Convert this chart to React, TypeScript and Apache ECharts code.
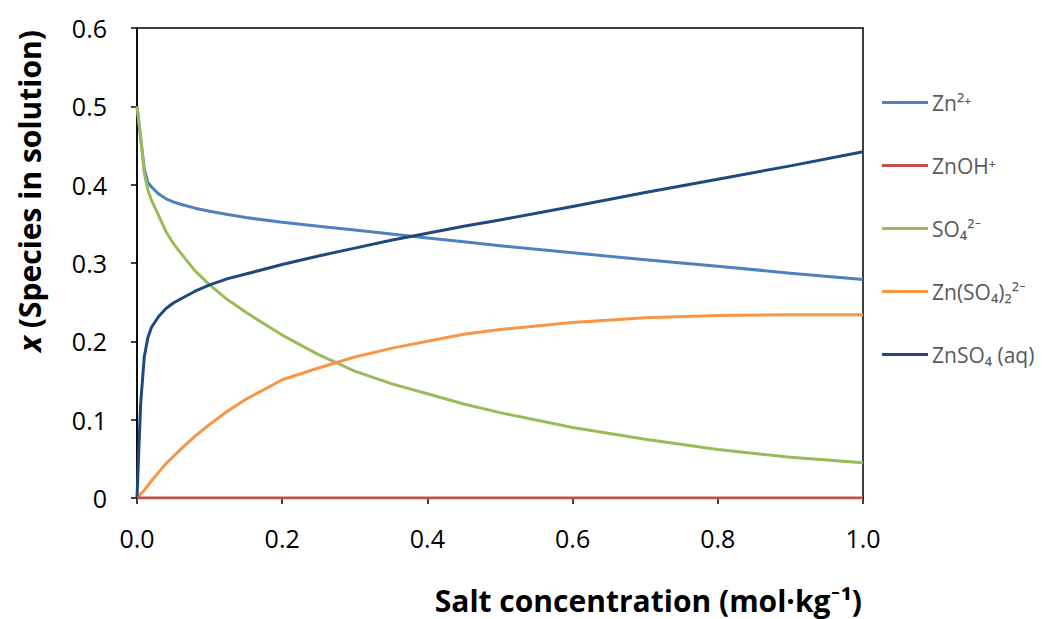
import React, { useEffect, useRef } from "react";
import * as echarts from "echarts";

const xs = [0, 0.005, 0.01, 0.015, 0.02, 0.03, 0.04, 0.05, 0.06, 0.08, 0.1, 0.125, 0.15, 0.2, 0.25, 0.3, 0.35, 0.4, 0.45, 0.5, 0.6, 0.7, 0.8, 0.9, 1.0];
const zn2 = [0.5, 0.46, 0.42, 0.403, 0.397, 0.388, 0.382, 0.378, 0.375, 0.37, 0.366, 0.362, 0.358, 0.352, 0.347, 0.342, 0.337, 0.332, 0.327, 0.322, 0.313, 0.304, 0.296, 0.287, 0.279];
const znoh = [0, 0, 0, 0, 0, 0, 0, 0, 0, 0, 0, 0, 0, 0, 0, 0, 0, 0, 0, 0, 0, 0, 0, 0, 0];
const so4 = [0.5, 0.46, 0.415, 0.393, 0.38, 0.36, 0.34, 0.325, 0.313, 0.29, 0.272, 0.253, 0.237, 0.208, 0.183, 0.162, 0.146, 0.133, 0.12, 0.109, 0.09, 0.075, 0.062, 0.052, 0.045];
const znso42 = [0, 0.005, 0.01, 0.016, 0.022, 0.033, 0.044, 0.053, 0.062, 0.079, 0.094, 0.111, 0.126, 0.151, 0.166, 0.18, 0.191, 0.2, 0.209, 0.215, 0.224, 0.23, 0.233, 0.234, 0.234];
const znso4 = [0, 0.12, 0.18, 0.205, 0.218, 0.232, 0.242, 0.249, 0.254, 0.264, 0.272, 0.28, 0.286, 0.298, 0.309, 0.319, 0.329, 0.338, 0.347, 0.355, 0.372, 0.39, 0.407, 0.424, 0.442];

const seriesNames = ["Zn²⁺", "ZnOH⁺", "SO₄²⁻", "Zn(SO₄)₂²⁻", "ZnSO₄ (aq)"];
const seriesValues = [zn2, znoh, so4, znso42, znso4];
const colors = ["#4F81BD", "#C0504D", "#9BBB59", "#F79646", "#1F497D"];

const FONT = "'Open Sans', Lato, sans-serif";

export default function App() {
  const ref = useRef<HTMLDivElement>(null);
  useEffect(() => {
    if (!ref.current) return;
    const chart = echarts.init(ref.current, undefined, { renderer: "svg" });
    chart.setOption({
      animation: false,
      backgroundColor: "#fff",
      color: colors,
      grid: {
        left: 137,
        right: 191,
        top: 28,
        bottom: 121,
        show: true,
        borderColor: "#000",
        borderWidth: 1.5,
        containLabel: false,
      },
      legend: {
        orient: "vertical",
        left: 882,
        top: 92,
        padding: 0,
        icon: "rect",
        itemWidth: 46,
        itemHeight: 3,
        itemGap: 42,
        textStyle: { fontFamily: FONT, fontSize: 21, color: "#595959", padding: [0, 0, 0, -1] },
        data: seriesNames,
      },
      xAxis: {
        type: "value",
        min: 0,
        max: 1,
        interval: 0.2,
        axisLine: { lineStyle: { color: "#000", width: 1.5 } },
        axisTick: { show: true, length: 6, lineStyle: { color: "#000", width: 1.5 } },
        axisLabel: {
          fontFamily: FONT,
          fontSize: 25,
          color: "#000",
          margin: 27,
          formatter: (v: number) => v.toFixed(1),
        },
        splitLine: { show: false },
      },
      yAxis: {
        type: "value",
        min: 0,
        max: 0.6,
        interval: 0.1,
        axisLine: { show: true, lineStyle: { color: "#000", width: 1.5 } },
        axisTick: { show: true, length: 6, lineStyle: { color: "#000", width: 1.5 } },
        axisLabel: {
          fontFamily: FONT,
          fontSize: 25,
          color: "#000",
          margin: 30,
          formatter: (v: number) => (v === 0 ? "0" : v.toFixed(1)),
        },
        splitLine: { show: false },
      },
      graphic: [
        {
          type: "text",
          x: 29,
          y: 191,
          rotation: Math.PI / 2,
          style: {
            text: "{i|x} (Species in solution)",
            fontFamily: FONT,
            fontSize: 30,
            fontWeight: "bold",
            fill: "#000",
            align: "center",
            verticalAlign: "middle",
            rich: {
              i: { fontStyle: "italic", fontWeight: "bold", fontSize: 30, fontFamily: FONT, fill: "#000" },
            },
          },
        },
        {
          type: "text",
          x: 862,
          y: 600,
          style: {
            text: "Salt concentration (mol·kg⁻¹)",
            fontFamily: FONT,
            fontSize: 30,
            fontWeight: "bold",
            fill: "#000",
            align: "right",
            verticalAlign: "middle",
          },
        },
      ],
      series: seriesNames.map((name, i) => ({
        name,
        type: "line",
        data: xs.map((x, j) => [x, seriesValues[i][j]]),
        smooth: false,
        showSymbol: false,
        symbol: "none",
        lineStyle: { width: 3, color: colors[i], join: "round" },
        z: i === 1 ? 3 : 2,
      })),
    });
    return () => chart.dispose();
  }, []);
  return (
    <div
      ref={ref}
      style={{ position: "absolute", left: 0, top: 0, width: 1054, height: 619 }}
    />
  );
}
